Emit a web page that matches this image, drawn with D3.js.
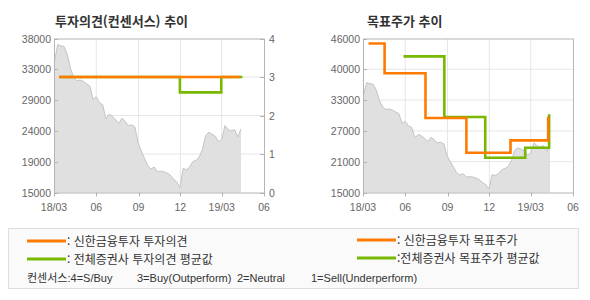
<!DOCTYPE html>
<html lang="ko">
<head>
<meta charset="UTF-8">
<script src="https://cdn.jsdelivr.net/npm/d3@7"></script>
<style>
	body { margin: 0; background: #fff; }
	svg text { font-family: 'Liberation Sans', Arial, sans-serif; }
	svg .kr { font-family: 'Noto Sans CJK KR', sans-serif; }
	svg .mix { font-family: 'Liberation Sans', 'Noto Sans CJK KR', sans-serif; }
</style>
</head>
<body>
<svg width="590" height="300"></svg>
<script>
// weekly closes from 2018-03-02
const priceStart = '2018-03-02';
const prices = [34600, 37100, 36900, 36800, 35600, 33500, 32200, 31700, 31800, 31600,
	31200, 30900, 28900, 29300, 28400, 28100, 26000, 26700, 26400, 25900,
	25300, 26100, 25600, 25000, 25100, 24800, 22400, 21200, 20100, 19000,
	18500, 18800, 18100, 18200, 18100, 17900, 17600, 17000, 16600, 15700,
	18600, 18400, 18800, 19600, 19800, 20300, 21400, 23500, 24000, 23700,
	23400, 22600, 22900, 25000, 24400, 24200, 24400, 23300, 24500];

const opinionOurs = [['2018-03-12', 3], ['2019-04-09', 3]];
const opinionAvg = [['2018-03-12', 3], ['2018-11-30', 2.6], ['2019-02-28', 3], ['2019-04-15', 3]];

const targetOurs = [['2018-03-13', 45000], ['2018-04-17', 39000], ['2018-07-15', 30000],
	['2018-10-12', 23000], ['2019-01-16', 25500], ['2019-04-08', 30000], ['2019-04-10', 30000]];
const targetAvg = [['2018-05-28', 42400], ['2018-08-25', 30200], ['2018-11-22', 22000],
	['2019-02-17', 24000], ['2019-04-10', 30500], ['2019-04-13', 30500]];

const xTicks = ['2018-03-01', '2018-06-01', '2018-09-01', '2018-12-01', '2019-03-01', '2019-06-01'];
const xTickLabels = ['18/03', '06', '09', '12', '19/03', '06'];
const opinionPriceLabels = ['15000', '19000', '24000', '29000', '33000', '38000'];
const opinionTicks = [0, 1, 2, 3, 4];
const targetPriceLabels = ['15000', '21000', '27000', '33000', '40000', '46000'];

const ORANGE = '#ff7a00';
const GREEN = '#77b800';
const parse = d3.timeParse('%Y-%m-%d');
const svg = d3.select('svg');

const priceData = prices.map((v, i) => ({ date: d3.timeDay.offset(parse(priceStart), 7 * i), value: v }));

function chart(opt) {
	const g = svg.append('g');
	const x = d3.scaleTime().domain([parse(xTicks[0]), parse(xTicks[xTicks.length - 1])]).range([opt.left, opt.right]);
	const y = d3.scaleLinear().domain(opt.priceDomain).range([opt.bottom, opt.top]);
	const yLab = d3.scalePoint().domain(opt.priceLabels).range([opt.bottom, opt.top]);
	const y2 = opt.stepDomain ? d3.scaleLinear().domain(opt.stepDomain).range([opt.bottom, opt.top]) : y;

	// grid
	const hGrid = opt.stepTicks ? opt.stepTicks.map(d => y2(d)) : opt.priceLabels.map(d => yLab(d));
	g.selectAll('.hg').data(hGrid.filter(v => v < opt.bottom - 1 && v > opt.top + 1)).enter().append('line')
		.attr('x1', opt.left).attr('x2', opt.right).attr('y1', d => d).attr('y2', d => d)
		.attr('stroke', '#e6e6e6');
	g.selectAll('.vg').data(xTicks.slice(1, -1)).enter().append('line')
		.attr('x1', d => x(parse(d))).attr('x2', d => x(parse(d)))
		.attr('y1', opt.top).attr('y2', opt.bottom).attr('stroke', '#e6e6e6');

	// price area
	g.append('path').datum(priceData)
		.attr('d', d3.area().x(d => x(d.date)).y0(opt.bottom).y1(d => y(d.value)))
		.attr('fill', '#e0e0e0');
	g.append('path').datum(priceData)
		.attr('d', d3.line().x(d => x(d.date)).y(d => y(d.value)))
		.attr('fill', 'none').attr('stroke', '#c4c4c4').attr('stroke-width', 1);

	// step lines
	const step = d3.line().curve(d3.curveStepAfter).x(d => x(parse(d[0]))).y(d => y2(d[1]));
	g.append('path').datum(opt.avg).attr('d', step).attr('fill', 'none')
		.attr('stroke', GREEN).attr('stroke-width', 2.6);
	g.append('path').datum(opt.ours).attr('d', step).attr('fill', 'none')
		.attr('stroke', ORANGE).attr('stroke-width', 2.6);

	// frame
	g.append('rect').attr('x', opt.left + 0.5).attr('y', opt.top + 0.5)
		.attr('width', opt.right - opt.left).attr('height', opt.bottom - opt.top)
		.attr('fill', 'none').attr('stroke', '#b4b4b4');

	// left labels
	g.selectAll('.yl').data(opt.priceLabels).enter().append('text')
		.attr('x', opt.left - 3).attr('y', d => yLab(d) + 4)
		.attr('text-anchor', 'end').attr('font-size', 10.5).attr('fill', '#666').text(d => d);
	g.selectAll('.ylt').data(opt.priceLabels).enter().append('line')
		.attr('x1', opt.left).attr('x2', opt.left + 4).attr('y1', d => Math.round(yLab(d)) + 0.5).attr('y2', d => Math.round(yLab(d)) + 0.5)
		.attr('stroke', '#b4b4b4');

	// right labels
	if (opt.stepTicks) {
		g.selectAll('.yr').data(opt.stepTicks).enter().append('text')
			.attr('x', opt.right + 5).attr('y', d => y2(d) + 4)
			.attr('font-size', 10.5).attr('fill', '#666').text(d => d);
		g.selectAll('.yrt').data(opt.stepTicks).enter().append('line')
			.attr('x1', opt.right - 4).attr('x2', opt.right + 1).attr('y1', d => Math.round(y2(d)) + 0.5).attr('y2', d => Math.round(y2(d)) + 0.5)
			.attr('stroke', '#b4b4b4');
	}

	// x labels
	g.selectAll('.xl').data(xTicks).enter().append('text')
		.attr('x', d => x(parse(d))).attr('y', opt.bottom + 18)
		.attr('text-anchor', 'middle').attr('font-size', 10.5).attr('fill', '#666')
		.text((d, i) => xTickLabels[i]);
	g.selectAll('.xt').data(xTicks).enter().append('line')
		.attr('x1', d => Math.round(x(parse(d))) + 0.5).attr('x2', d => Math.round(x(parse(d))) + 0.5)
		.attr('y1', opt.bottom).attr('y2', opt.bottom + 4).attr('stroke', '#b4b4b4');

	// title
	g.append('text').attr('class', 'kr').attr('x', opt.titleX).attr('y', 26)
		.attr('font-size', 13).attr('font-weight', 'bold').attr('fill', '#333').text(opt.title);
}

chart({
	left: 54, right: 264, top: 38.5, bottom: 192.5,
	priceDomain: [15000, 38000], priceLabels: opinionPriceLabels,
	stepDomain: [0, 4], stepTicks: opinionTicks,
	ours: opinionOurs, avg: opinionAvg,
	title: '투자의견(컨센서스) 추이', titleX: 55
});
chart({
	left: 363, right: 573, top: 38.5, bottom: 192.5,
	priceDomain: [15000, 46000], priceLabels: targetPriceLabels,
	ours: targetOurs, avg: targetAvg,
	title: '목표주가 추이', titleX: 367
});

// legend
const lg = svg.append('g');
lg.append('rect').attr('x', 8.5).attr('y', 228.5).attr('width', 570).attr('height', 60)
	.attr('fill', '#fafafa').attr('stroke', '#dedede');
const legendItems = [
	{ x: 27, y: 241, color: ORANGE, text: ': 신한금융투자 투자의견' },
	{ x: 27, y: 259, color: GREEN, text: ': 전체증권사 투자의견 평균값' },
	{ x: 357, y: 240, color: ORANGE, text: ': 신한금융투자 목표주가' },
	{ x: 357, y: 258, color: GREEN, text: ':전체증권사 목표주가 평균값' }
];
lg.selectAll('line').data(legendItems).enter().append('line')
	.attr('x1', d => d.x).attr('x2', d => d.x + 39).attr('y1', d => d.y).attr('y2', d => d.y)
	.attr('stroke', d => d.color).attr('stroke-width', 3);
lg.selectAll('text.it').data(legendItems).enter().append('text')
	.attr('class', 'kr').attr('x', d => d.x + 40).attr('y', d => d.y + 4.5)
	.attr('font-size', 12).attr('fill', '#333').text(d => d.text);

const consensus = [
	{ x: 27, text: '컨센서스:4=S/Buy' },
	{ x: 137, text: '3=Buy(Outperform)' },
	{ x: 237, text: '2=Neutral' },
	{ x: 311, text: '1=Sell(Underperform)' }
];
lg.selectAll('text.cs').data(consensus).enter().append('text')
	.attr('class', 'mix').attr('x', d => d.x).attr('y', 282)
	.attr('font-size', 11).attr('fill', '#333').text(d => d.text);
</script>
</body>
</html>
